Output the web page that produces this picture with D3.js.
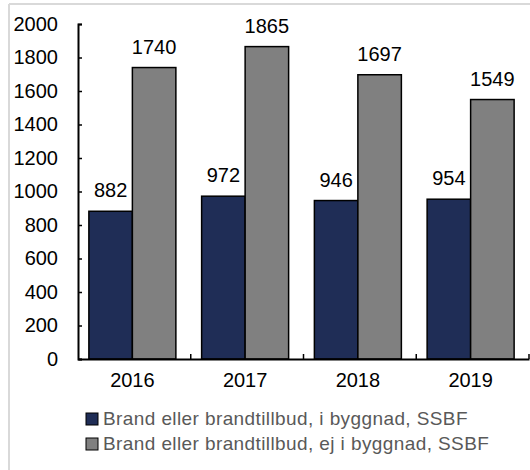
<!DOCTYPE html>
<html>
<head>
<meta charset="utf-8">
<script src="https://cdn.jsdelivr.net/npm/d3@7"></script>
<style>
body{margin:0;background:#fff;}
svg{display:block;font-family:"Liberation Sans",Arial,sans-serif;}
</style>
</head>
<body>
<div class="chart"></div>
<script>
// data
var years=["2016","2017","2018","2019"];
var seriesNames=["Brand eller brandtillbud, i byggnad, SSBF","Brand eller brandtillbud, ej i byggnad, SSBF"];
var inBuilding=[882,972,946,954];
var notInBuilding=[1740,1865,1697,1549];
var yTicks=[0,200,400,600,800,1000,1200,1400,1600,1800,2000];
var colors=["#1f2d56","#808080"];

var width=530,height=470;
var svg=d3.select('div.chart').append('svg')
		.attr('width',width)
		.attr('height',height);

// gray frame (top + left)
svg.append('line').attr('x1',9).attr('x2',width).attr('y1',4).attr('y2',4)
	.attr('stroke','#d9d9d9').attr('stroke-width',2);
svg.append('line').attr('x1',9).attr('x2',9).attr('y1',4).attr('y2',height)
	.attr('stroke','#d9d9d9').attr('stroke-width',2);

var plotLeft=78,plotRight=529,plotTop=24,plotBottom=359;

var xScale=d3.scaleBand().domain(years).range([plotLeft,plotRight]).padding(0);
var x1=d3.scaleBand().domain([0,1]).range([0,xScale.bandwidth()]).paddingInner(0).paddingOuter(0.296);
var yScale=d3.scaleLinear().domain([0,2000]).range([plotBottom,plotTop]);

var series=[inBuilding,notInBuilding];
var data=[];
years.forEach(function(y,i){
	series.forEach(function(s,j){
		data.push({year:y,s:j,v:s[i]});
	});
});

// bars
svg.append('g').selectAll('rect')
	.data(data).enter().append('rect')
	.attr('x',function(d){return xScale(d.year)+x1(d.s)-2;})
	.attr('y',function(d){return yScale(d.v);})
	.attr('width',x1.bandwidth())
	.attr('height',function(d){return plotBottom-yScale(d.v);})
	.attr('fill',function(d){return colors[d.s];})
	.attr('stroke','#000')
	.attr('stroke-width',1.5);

// value labels
svg.append('g').selectAll('text')
	.data(data).enter().append('text')
	.attr('x',function(d){return xScale(d.year)+x1(d.s)-2+x1.bandwidth()/2;})
	.attr('y',function(d){return yScale(d.v)-14;})
	.attr('text-anchor','middle')
	.attr('font-size','20px')
	.attr('fill','#000')
	.text(function(d){return d.v;});

// y axis
var yAxis=svg.append('g')
	.attr('transform','translate('+plotLeft+',0)')
	.call(d3.axisLeft(yScale).tickValues(yTicks).tickSize(-4).tickPadding(20).tickFormat(d3.format('d')));
yAxis.select('.domain').attr('stroke','#000').attr('stroke-width',2);
yAxis.selectAll('.tick line').attr('stroke','#000').attr('stroke-width',1.5);
yAxis.selectAll('.tick text').attr('font-size','20px').attr('fill','#000')
	.attr('font-family','"Liberation Sans",Arial,sans-serif');

// x axis
var xAxis=svg.append('g')
	.attr('transform','translate(0,'+plotBottom+')')
	.call(d3.axisBottom(xScale).tickSize(0).tickPadding(14));
xAxis.select('.domain').attr('stroke','#000').attr('stroke-width',2);
xAxis.selectAll('.tick text').attr('font-size','20px').attr('fill','#000')
	.attr('font-family','"Liberation Sans",Arial,sans-serif')
	.attr('dx',-2);
// category separators
svg.append('g').selectAll('line')
	.data(years.slice(1).concat(['end'])).enter().append('line')
	.attr('x1',function(d,i){return i<3?xScale(d):plotRight;})
	.attr('x2',function(d,i){return i<3?xScale(d):plotRight;})
	.attr('y1',plotBottom).attr('y2',plotBottom-5)
	.attr('stroke','#000').attr('stroke-width',1.5);

// legend
var legend=svg.append('g');
seriesNames.forEach(function(name,i){
	var ly=413+i*25;
	legend.append('rect')
		.attr('x',86).attr('y',ly)
		.attr('width',12).attr('height',12)
		.attr('fill',colors[i])
		.attr('stroke','#000')
		.attr('stroke-width',1);
	legend.append('text')
		.attr('x',103).attr('y',ly+12)
		.attr('font-size','19px')
		.attr('letter-spacing','0.4px')
		.attr('fill','#595959')
		.text(name);
});
</script>
</body>
</html>
